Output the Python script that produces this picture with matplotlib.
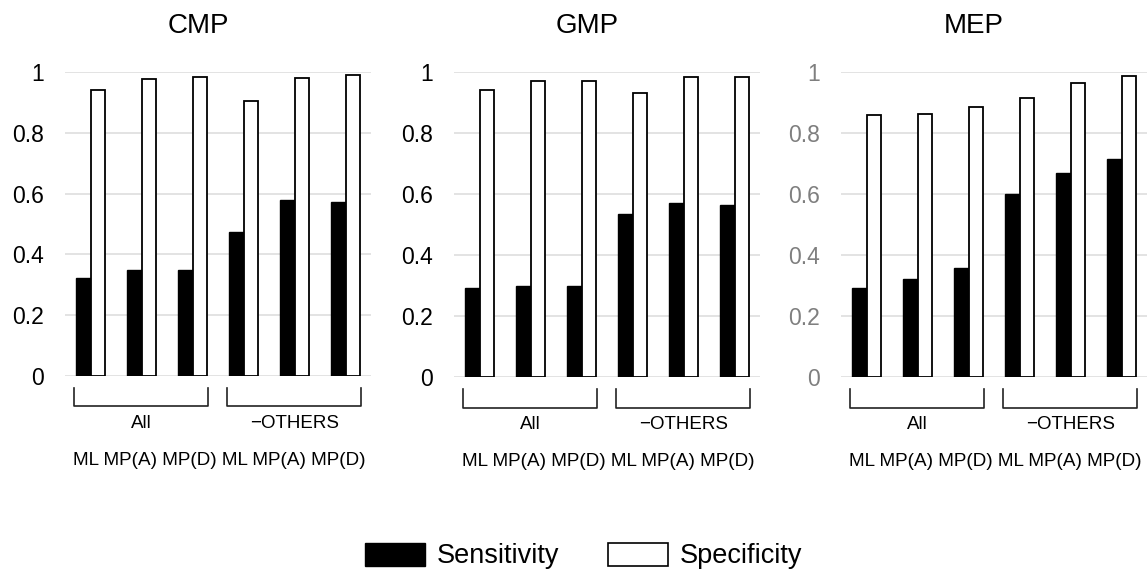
import matplotlib
matplotlib.use('Agg')
import matplotlib.pyplot as plt
from matplotlib.patches import Patch
import numpy as np

plt.rcParams['font.family'] = ['Liberation Sans', 'DejaVu Sans']

panels = ['CMP', 'GMP', 'MEP']
groups = ['All', '\u2212OTHERS']
methods = ['ML', 'MP(A)', 'MP(D)']

sensitivity = {
    'CMP': [0.321, 0.350, 0.350, 0.474, 0.580, 0.571],
    'GMP': [0.293, 0.298, 0.298, 0.533, 0.570, 0.563],
    'MEP': [0.291, 0.321, 0.359, 0.600, 0.670, 0.715],
}
specificity = {
    'CMP': [0.940, 0.976, 0.984, 0.905, 0.981, 0.990],
    'GMP': [0.940, 0.970, 0.972, 0.932, 0.985, 0.985],
    'MEP': [0.858, 0.862, 0.886, 0.915, 0.963, 0.987],
}

W, H = 1147, 573
fig = plt.figure(figsize=(W / 100, H / 100), dpi=100)

# axes boxes in pixels: left, zero line, top line
boxes = [(65, 376, 72), (454, 377, 72), (841, 377, 72)]
tick_colors = ['black', 'black', '#7f7f7f']
bw = 0.29

for name, (left, y0, y1), tc in zip(panels, boxes, tick_colors):
    ax = fig.add_axes([left / W, (H - y0) / H, 306 / W, (y0 - y1) / H])
    ind = np.arange(len(sensitivity[name]))
    ax.bar(ind - bw / 2, sensitivity[name], bw, color='black', edgecolor='black', linewidth=1, zorder=3)
    ax.bar(ind + bw / 2, specificity[name], bw, color='white', edgecolor='black', linewidth=1.3, zorder=3)
    ax.set_xlim(-0.5, 5.5)
    ax.set_ylim(0, 1)
    ax.set_yticks([0, 0.2, 0.4, 0.6, 0.8, 1.0])
    ax.set_yticklabels(['0', '0.2', '0.4', '0.6', '0.8', '1'])
    ax.tick_params(axis='y', length=0, pad=15, labelsize=16.5, labelcolor=tc)
    ax.set_xticks([])
    ax.grid(axis='y', color='#dedede', linewidth=1.2, zorder=0)
    for s in ax.spines.values():
        s.set_visible(False)
    ax.text(0.435, 1.15, name, transform=ax.transAxes, ha='center', va='center', fontsize=20)

    # group brackets
    for g, gname in enumerate(groups):
        c = 1 + 3 * g
        ax.plot([c - 1.33, c - 1.33, c + 1.31, c + 1.31], [-0.04, -0.1, -0.1, -0.04],
                color='#222222', linewidth=1.2, clip_on=False)
        ax.text(c, -0.157, gname, ha='center', va='center', fontsize=13.5)
    ax.text(2.53, -0.278, ' '.join(methods * 2), ha='center', va='center', fontsize=13.6)

handles = [Patch(facecolor='black', edgecolor='black', label='Sensitivity'),
           Patch(facecolor='white', edgecolor='black', linewidth=1.2, label='Specificity')]
fig.legend(handles=handles, loc='center', bbox_to_anchor=(584 / W, (H - 556) / H), ncol=2,
           frameon=False, fontsize=19.5, handlelength=2.2, handleheight=0.95,
           handletextpad=0.45, columnspacing=1.8)

fig.savefig('out.png', dpi=100)
